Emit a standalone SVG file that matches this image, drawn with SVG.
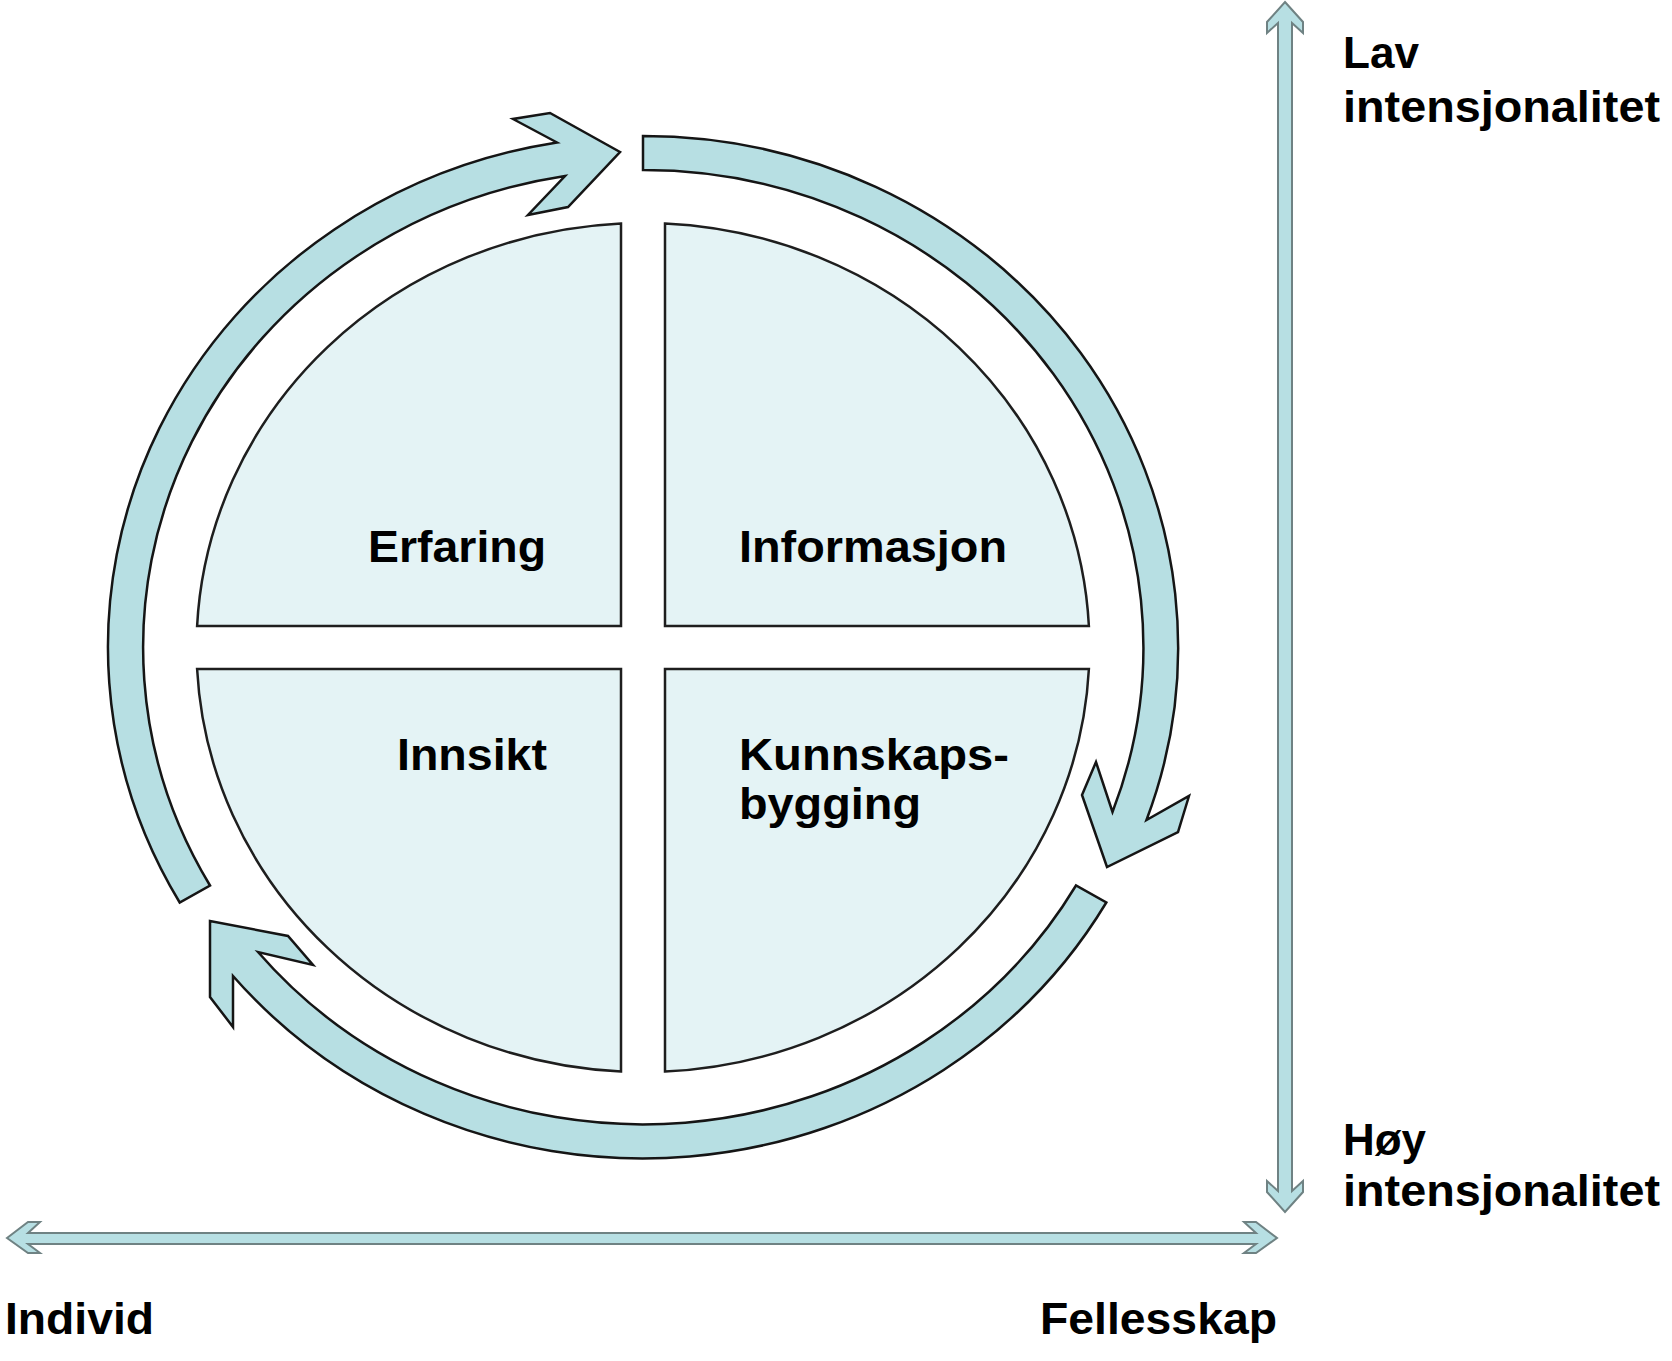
<svg xmlns="http://www.w3.org/2000/svg" width="1672" height="1361" viewBox="0 0 1672 1361">
<style>
.q{fill:#e4f3f5;stroke:#1e1e1e;stroke-width:2.5;stroke-linejoin:miter}
.ring{fill:#b7dfe3;stroke:#151515;stroke-width:2.5;stroke-linejoin:miter}
.axis{fill:#b7dfe3;stroke:#6f8283;stroke-width:2;stroke-linejoin:miter}
.t{font-family:"Liberation Sans",Arial,sans-serif;font-weight:bold;font-size:44px;fill:#000}
</style>
<rect width="1672" height="1361" fill="#fff"/>
<g id="connectors">
<path id="arrow-left" class="ring" d="M179.7,902.5 A535 511 0 0 1 557,142.5 L513,119 L550,113 L620,152 L568,207 L528,215 L565,176 A500 477 0 0 0 210,885.5 Z"/>
<path id="arrow-right" class="ring" d="M643,136 A535 511 0 0 1 1146.5,820 L1189,796 L1178,832 L1107,867 L1082,795 L1096,762 L1112.5,812 A500 477 0 0 0 643,170 Z"/>
<path id="arrow-bottom" class="ring" d="M1106.3,902.5 A535 511 0 0 1 233,976 L233,1027 L210,997 L210,921 L288,936 L313,965 L258,952 A500 477 0 0 0 1076,885.5 Z"/>
<polygon id="axis-vertical" class="axis" points="1285,2 1303,22 1303,33 1292,23 1292,1191 1303,1181 1303,1192 1285,1212 1267,1192 1267,1181 1278,1191 1278,23 1267,33 1267,22"/>
<polygon id="axis-horizontal" class="axis" points="7,1238 28,1222 40,1222 28,1233 1256,1233 1244,1222 1256,1222 1277,1238 1256,1253 1244,1253 1256,1244 28,1244 40,1253 28,1253"/>
</g>
<g id="node-erfaring">
<path class="q" d="M621,626 L197.1,626 A446.5 424.5 0 0 1 621,223.5 Z"/>
<text class="t" x="368" y="562" textLength="178" lengthAdjust="spacingAndGlyphs">Erfaring</text>
</g>
<g id="node-informasjon">
<path class="q" d="M665,626 L665,223.5 A446.5 424.5 0 0 1 1088.9,626 Z"/>
<text class="t" x="739" y="562" textLength="268" lengthAdjust="spacingAndGlyphs">Informasjon</text>
</g>
<g id="node-innsikt">
<path class="q" d="M621,669 L621,1071.5 A446.5 424.5 0 0 1 197.1,669 Z"/>
<text class="t" x="397" y="770" textLength="150" lengthAdjust="spacingAndGlyphs">Innsikt</text>
</g>
<g id="node-kunnskapsbygging">
<path class="q" d="M665,669 L1088.9,669 A446.5 424.5 0 0 1 665,1071.5 Z"/>
<text class="t" x="739" y="770" textLength="270" lengthAdjust="spacingAndGlyphs">Kunnskaps-</text>
<text class="t" x="739" y="819" textLength="182" lengthAdjust="spacingAndGlyphs">bygging</text>
</g>
<g id="label-lav">
<text class="t" x="1343" y="68" textLength="76" lengthAdjust="spacingAndGlyphs">Lav</text>
<text class="t" x="1343" y="122" textLength="317" lengthAdjust="spacingAndGlyphs">intensjonalitet</text>
</g>
<g id="label-hoy">
<text class="t" x="1343" y="1155" textLength="83" lengthAdjust="spacingAndGlyphs">Høy</text>
<text class="t" x="1343" y="1206" textLength="317" lengthAdjust="spacingAndGlyphs">intensjonalitet</text>
</g>
<g id="label-individ">
<text class="t" x="5" y="1334" textLength="149" lengthAdjust="spacingAndGlyphs">Individ</text>
</g>
<g id="label-fellesskap">
<text class="t" x="1040" y="1334" textLength="237" lengthAdjust="spacingAndGlyphs">Fellesskap</text>
</g>
</svg>
